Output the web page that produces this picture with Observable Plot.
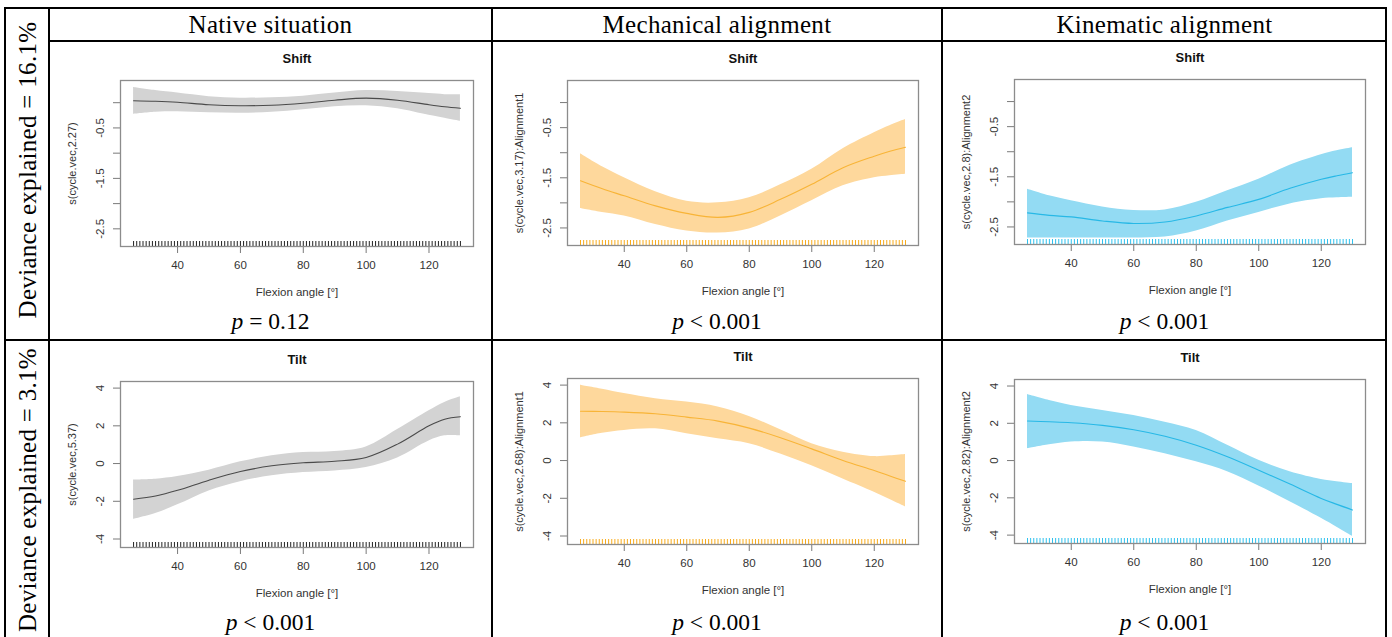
<!DOCTYPE html>
<html>
<head>
<meta charset="utf-8">
<script src="https://cdn.jsdelivr.net/npm/d3@7"></script>
<script src="https://cdn.jsdelivr.net/npm/@observablehq/plot@0.6"></script>
<style>
  html, body { margin: 0; padding: 0; background: #fff; }
  #page { position: relative; width: 1392px; height: 637px; overflow: hidden; background: #fff; }
  .hl { position: absolute; background: #000; height: 2px; }
  .vl { position: absolute; background: #000; width: 2px; }
  .serif { position: absolute; font-family: "Liberation Serif", "Times New Roman", serif; color: #000; white-space: nowrap; text-align: center; }
  .panel { position: absolute; }
</style>
</head>
<body>
<div id="page"></div>
<script>
// ---------------- data ----------------
const columnTitles = ["Native situation", "Mechanical alignment", "Kinematic alignment"];
const rowLabels = ["Deviance explained = 16.1%", "Deviance explained = 3.1%"];
const rowTitles = ["Shift", "Tilt"];
const pValues = [["p = 0.12", "p < 0.001", "p < 0.001"], ["p < 0.001", "p < 0.001", "p < 0.001"]];
const yLabels = [
  ["s(cycle.vec,2.27)", "s(cycle.vec,3.17):Alignment1", "s(cycle.vec,2.8):Alignment2"],
  ["s(cycle.vec,5.37)", "s(cycle.vec,2.68):Alignment1", "s(cycle.vec,2.82):Alignment2"]
];
const xLabel = "Flexion angle [°]";
const xTicks = [40, 60, 80, 100, 120];
const shiftTicks = [-2.5, -2, -1.5, -1, -0.5, 0];
const shiftTickLabels = [-2.5, -1.5, -0.5];
const tiltTicks = [-4, -2, 0, 2, 4];
const tiltTickLabels = [-4, -2, 0, 2, 4];

const angles = [26, 33, 40, 50, 60, 70, 80, 90, 100, 110, 120, 125, 130];

// Shift — native
const nativeShiftFit = [0.04, 0.03, 0.01, -0.04, -0.06, -0.05, -0.01, 0.05, 0.09, 0.05, -0.04, -0.08, -0.11];
const nativeShiftLo  = [-0.23, -0.19, -0.18, -0.20, -0.21, -0.19, -0.14, -0.08, -0.06, -0.12, -0.25, -0.31, -0.37];
const nativeShiftHi  = [0.30, 0.24, 0.19, 0.12, 0.09, 0.10, 0.13, 0.19, 0.24, 0.22, 0.18, 0.16, 0.16];
// Shift — mechanical
const mechShiftFit = [-1.56, -1.72, -1.86, -2.06, -2.21, -2.29, -2.19, -1.93, -1.63, -1.30, -1.07, -0.97, -0.89];
const mechShiftLo  = [-2.11, -2.19, -2.26, -2.43, -2.56, -2.60, -2.52, -2.26, -1.96, -1.66, -1.50, -1.46, -1.43];
const mechShiftHi  = [-1.02, -1.28, -1.50, -1.78, -1.97, -2.00, -1.90, -1.64, -1.33, -0.92, -0.60, -0.46, -0.34];
// Shift — kinematic
const kinShiftFit = [-2.22, -2.27, -2.30, -2.38, -2.43, -2.40, -2.28, -2.11, -1.95, -1.73, -1.55, -1.48, -1.42];
const kinShiftLo  = [-2.72, -2.72, -2.72, -2.72, -2.72, -2.70, -2.58, -2.38, -2.21, -2.04, -1.94, -1.92, -1.91];
const kinShiftHi  = [-1.75, -1.88, -1.98, -2.10, -2.17, -2.16, -2.01, -1.78, -1.55, -1.27, -1.06, -0.98, -0.92];
// Tilt — native
const nativeTiltFit = [-1.89, -1.72, -1.42, -0.88, -0.42, -0.12, 0.04, 0.12, 0.32, 1.03, 2.00, 2.35, 2.48];
const nativeTiltLo  = [-2.96, -2.65, -2.19, -1.45, -0.96, -0.65, -0.48, -0.39, -0.21, 0.30, 1.20, 1.47, 1.47];
const nativeTiltHi  = [-0.87, -0.83, -0.69, -0.35, 0.09, 0.41, 0.58, 0.64, 0.88, 1.80, 2.80, 3.24, 3.54];
// Tilt — mechanical
const mechTiltFit = [2.61, 2.60, 2.57, 2.48, 2.30, 2.09, 1.72, 1.21, 0.62, 0.00, -0.53, -0.82, -1.10];
const mechTiltLo  = [1.21, 1.45, 1.60, 1.68, 1.42, 1.15, 0.89, 0.35, -0.27, -0.98, -1.68, -2.06, -2.45];
const mechTiltHi  = [3.99, 3.78, 3.55, 3.28, 3.10, 2.84, 2.34, 1.63, 0.89, 0.44, 0.21, 0.25, 0.32];
// Tilt — kinematic
const kinTiltFit = [2.12, 2.08, 2.03, 1.89, 1.65, 1.30, 0.82, 0.20, -0.52, -1.26, -2.03, -2.35, -2.65];
const kinTiltLo  = [0.64, 0.85, 1.00, 1.00, 0.73, 0.37, -0.07, -0.60, -1.37, -2.21, -3.10, -3.58, -4.07];
const kinTiltHi  = [3.54, 3.22, 2.95, 2.69, 2.42, 2.06, 1.62, 0.82, 0.02, -0.60, -1.01, -1.13, -1.23];

// observed flexion angles (rug)
const rugAngles = [26,27,28,29,30,31,32,33,34,35,36,37,38,39,40,41,42,43,44,45,46,47,48,49,50,
  51,52,53,54,55,56,57,58,59,60,61,62,63,64,65,66,67,68,69,70,71,72,73,74,75,76,77,78,79,80,
  81,82,83,84,85,86,87,88,89,90,91,92,93,94,95,96,97,98,99,100,101,102,103,104,105,106,107,108,109,110,
  111,112,113,114,115,116,117,118,119,120,121,122,123,124,125,126,127,128,129,130];

const series = [
  [[nativeShiftFit, nativeShiftLo, nativeShiftHi], [mechShiftFit, mechShiftLo, mechShiftHi], [kinShiftFit, kinShiftLo, kinShiftHi]],
  [[nativeTiltFit, nativeTiltLo, nativeTiltHi], [mechTiltFit, mechTiltLo, mechTiltHi], [kinTiltFit, kinTiltLo, kinTiltHi]]
];

// ---------------- styles / layout ----------------
const palette = [
  {band: "#d3d3d3", line: "#4a4a4a", rug: "#222222"},
  {band: "#fed89c", line: "#f8b437", rug: "#f9ac1c"},
  {band: "#93dbf3", line: "#27b8e6", rug: "#2ec1ee"}
];
const cellX = [[49, 492], [492, 942], [942, 1387]];
// plot frame boxes [left, top, right, bottom]
const boxes = [
  [[120, 80, 473, 246], [567, 80, 918, 245], [1014, 79, 1365, 244]],
  [[120, 381, 473, 547], [567, 378, 918, 544], [1014, 379, 1365, 543]]
];
const xDomain = [21.84, 134.16];
const yDomains = [[-2.85, 0.44], [-4.45, 4.35]];
const yTickSets = [shiftTicks, tiltTicks];
const yLabelSets = [shiftTickLabels, tiltTickLabels];

const page = document.getElementById("page");
function add(cls, css, html) {
  const d = document.createElement("div");
  d.className = cls;
  Object.assign(d.style, css);
  if (html != null) d.innerHTML = html;
  page.appendChild(d);
  return d;
}

// panels
const mL = 70, mR = 12, mT = 35, mB = 62;
const axisFont = 11.5;
for (let r = 0; r < 2; r++) {
  for (let c = 0; c < 3; c++) {
    const [bx0, by0, bx1, by1] = boxes[r][c];
    const bw = bx1 - bx0, bh = by1 - by0;
    const [fit, lo, hi] = series[r][c];
    const rows = angles.map((a, i) => ({x: a, fit: fit[i], lo: lo[i], hi: hi[i]}));
    const col = palette[c];
    const chart = Plot.plot({
      width: mL + bw + mR,
      height: mT + bh + mB,
      marginLeft: mL, marginRight: mR, marginTop: mT, marginBottom: mB,
      x: {domain: xDomain, ticks: xTicks, tickSize: 7, tickFormat: () => "", label: null},
      y: {domain: yDomains[r], ticks: yTickSets[r], tickSize: 7, tickFormat: () => "", label: null},
      style: {color: "#7a7a7a", background: "transparent", fontFamily: "'Liberation Sans', Arial, sans-serif", fontSize: "11px", overflow: "visible"},
      marks: [
        Plot.areaY(rows, {x: "x", y1: "lo", y2: "hi", fill: col.band, curve: "catmull-rom"}),
        Plot.line(rows, {x: "x", y: "fit", stroke: col.line, strokeWidth: 1.1, curve: "catmull-rom"}),
        Plot.ruleX(rugAngles, {x: d => d, stroke: col.rug, strokeWidth: 1, insetTop: bh - 5}),
        Plot.frame({stroke: "#8c8c8c", strokeWidth: 1.3}),
        Plot.text(yLabelSets[r], {y: d => d, text: d => String(d), frameAnchor: "left", textAnchor: "middle", dx: -20, rotate: -90, fill: "#333", fontSize: axisFont}),
        Plot.text(xTicks, {x: d => d, text: d => String(d), frameAnchor: "bottom", textAnchor: "middle", dy: 22, fill: "#333", fontSize: axisFont}),
        Plot.text([yLabels[r][c]], {text: d => d, frameAnchor: "left", textAnchor: "middle", dx: -48, rotate: -90, fill: "#333", fontSize: 11}),
        Plot.text([xLabel], {text: d => d, frameAnchor: "bottom", textAnchor: "middle", dy: 49, fill: "#333", fontSize: axisFont}),
        Plot.text([rowTitles[r]], {text: d => d, frameAnchor: "top", textAnchor: "middle", dy: -27, fill: "#111", fontSize: 13, fontWeight: "bold"})
      ]
    });
    const holder = add("panel", {left: (bx0 - mL) + "px", top: (by0 - mT) + "px"});
    holder.appendChild(chart);
  }
}

// table lines
add("hl", {left: "5px", top: "7px", width: "1382px"});
add("hl", {left: "49px", top: "40px", width: "1338px"});
add("hl", {left: "5px", top: "339px", width: "1382px"});
[4, 48, 491, 941, 1385].forEach(x => add("vl", {left: x + "px", top: "7px", height: "640px"}));

// column headers
columnTitles.forEach((t, c) => {
  const [x0, x1] = cellX[c];
  add("serif", {left: x0 + "px", width: (x1 - x0) + "px", top: "11px", fontSize: "25px", lineHeight: "28px", letterSpacing: "0.3px"}, t);
});

// row labels (rotated)
const rowCenters = [170, 490];
rowLabels.forEach((t, r) => {
  add("serif", {left: (28 - 170) + "px", width: "340px", top: (rowCenters[r] - 15) + "px", height: "30px",
    fontSize: "25px", lineHeight: "30px", letterSpacing: "0.3px", transform: "rotate(-90deg)"}, t);
});

// p-values
const pTops = [308, 609];
pValues.forEach((row, r) => row.forEach((t, c) => {
  const [x0, x1] = cellX[c];
  const html = t.replace(/^p/, "<i>p</i>");
  add("serif", {left: x0 + "px", width: (x1 - x0) + "px", top: pTops[r] + "px", fontSize: "23.5px", lineHeight: "26px"}, html);
}));
</script>
</body>
</html>
